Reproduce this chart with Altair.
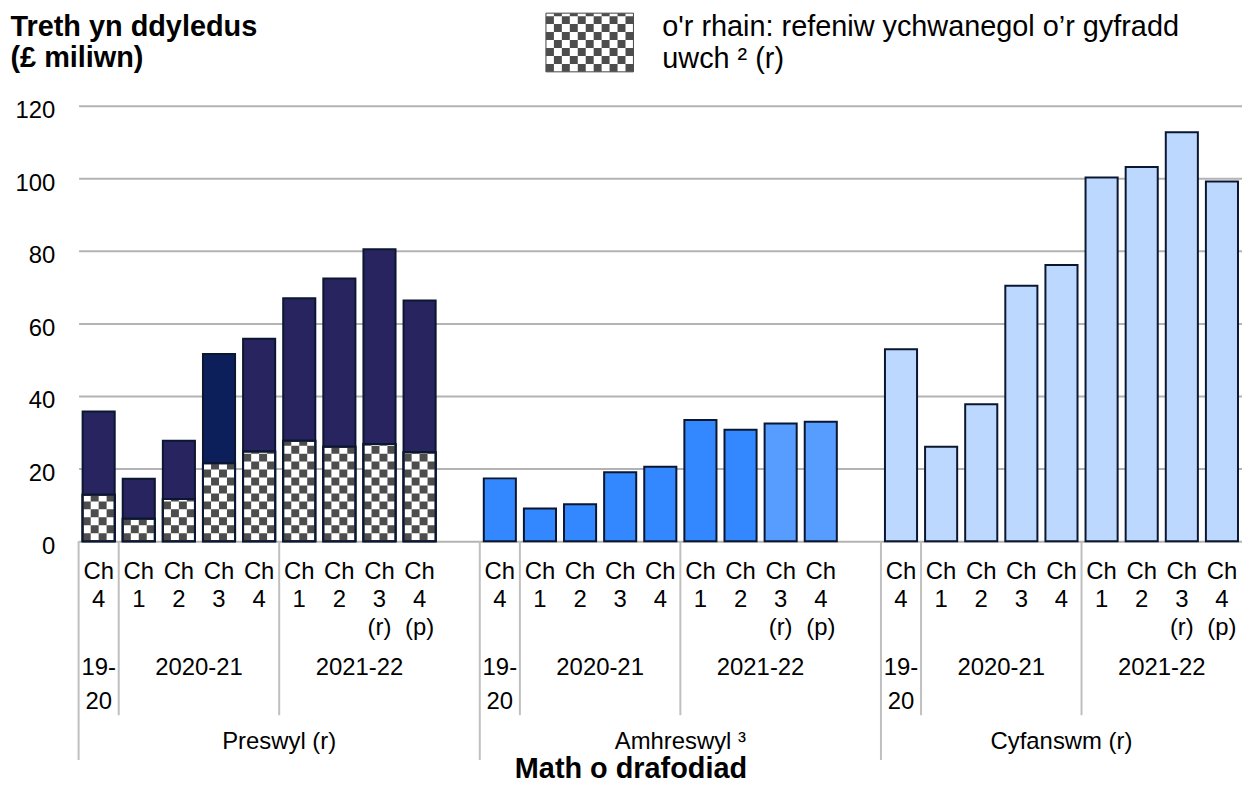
import altair as alt
import pandas as pd

# ---------------- data ----------------
groups = ["Preswyl (r)", "Amhreswyl ³", "Cyfanswm (r)"]
quarter_labels = ["Ch\n4", "Ch\n1", "Ch\n2", "Ch\n3", "Ch\n4",
                  "Ch\n1", "Ch\n2", "Ch\n3\n(r)", "Ch\n4\n(p)"]
year_labels = ["19-\n20", "2020-21", "2021-22"]
year_sizes = [1, 4, 4]

preswyl_total = [35.7, 17.2, 27.7, 51.6, 55.8, 66.9, 72.4, 80.4, 66.3]
preswyl_higher = [12.8, 6.2, 11.6, 21.5, 24.7, 27.7, 26.0, 26.8, 24.5]
amhreswyl_total = [17.3, 9.0, 10.2, 19.0, 20.5, 33.4, 30.7, 32.4, 32.9]
cyfanswm_total = [52.9, 26.0, 37.7, 70.4, 76.1, 100.2, 103.1, 112.7, 99.1]

y_ticks = [0, 20, 40, 60, 80, 100, 120]
y_title = ["Treth yn ddyledus", "(£ miliwn)"]
x_title = "Math o drafodiad"
legend_label = "o'r rhain: refeniw ychwanegol o’r gyfradd\nuwch ² (r)"

# ---------------- styles ----------------
FONT = "Liberation Sans"
STROKE = "#0B1730"
GRID = "#B3B3B3"
CHECK = "#4D4D4D"
group_colors = {"Preswyl (r)": "#28245F", "Amhreswyl ³": "#3388FF", "Cyfanswm (r)": "#BDD8FE"}
color_overrides = {(0, 3): "#0C1F5A", (1, 7): "#579DFF", (1, 8): "#579DFF"}

W, H = 1170, 438

# ---------------- tables ----------------
totals = [preswyl_total, amhreswyl_total, cyfanswm_total]
nq = len(quarter_labels)
domain_keys, bar_keys, bar_colors, rows = [], [], [], []
for g, grp in enumerate(groups):
    for q in range(nq):
        key = f"{g}-{q}"
        domain_keys.append(key)
        bar_keys.append(key)
        bar_colors.append(color_overrides.get((g, q), group_colors[grp]))
        rows.append({"key": key, "group": grp, "qlabel": quarter_labels[q],
                     "total": totals[g][q],
                     "higher": preswyl_higher[q] if g == 0 else None})
    if g < len(groups) - 1:
        domain_keys.append(f"gap-{g}")
n_slots = len(domain_keys)

df_bars = pd.DataFrame(rows)
df_high = df_bars[df_bars["higher"].notna()].copy()
df_high["zero"] = 0.0

glines, ylines, ylabs, glabs = [], [], [], []
for g, grp in enumerate(groups):
    start = g * (nq + 1)
    end = start + nq + (1 if g < len(groups) - 1 else 0)
    glines.append({"pos": start})
    glabs.append({"pos": (start + end) / 2, "label": grp})
    s = start
    for lab, size in zip(year_labels, year_sizes):
        if s > start:
            ylines.append({"pos": s})
        ylabs.append({"pos": s + size / 2, "label": lab})
        s += size
df_glines = pd.DataFrame(glines)
df_ylines = pd.DataFrame(ylines)
df_ylabs = pd.DataFrame(ylabs)
df_glabs = pd.DataFrame(glabs)
one = pd.DataFrame({"n": [0]})

# ---------------- scales / axes ----------------
xband = alt.Scale(domain=domain_keys, paddingInner=0.2, paddingOuter=0.1)
xlin = alt.Scale(domain=[0, n_slots], nice=False, zero=False)
yscale = alt.Scale(domain=[0, 120], nice=False)
yaxis = alt.Axis(
    values=y_ticks, grid=True, gridColor=GRID, gridWidth=2, domain=False, ticks=False,
    labelFontSize=24, labelFont=FONT, labelColor="black", labelPadding=24, labelOffset=5,
    title=y_title, titleAngle=0, titleAlign="left", titleBaseline="alphabetic",
    titleX=-69, titleY=-71, titleFontSize=29, titleFontWeight="bold", titleFont=FONT,
    titleColor="black", titleLineHeight=32)

def xb():
    return alt.X("key:N", scale=xband, axis=None)

def yq(field):
    return alt.Y(field, type="quantitative", scale=yscale, axis=yaxis)

bars = alt.Chart(df_bars).mark_bar(stroke=STROKE, strokeWidth=2).encode(
    x=alt.X("key:N", scale=xband, axis=alt.Axis(
        title=x_title, labels=False, ticks=False, domain=False, grid=False,
        titleFontSize=29, titleFontWeight="bold", titleColor="black", titleFont=FONT,
        titleX=555, titleY=238, titleBaseline="alphabetic", titleAlign="center")),
    y=yq("total"),
    fill=alt.Fill("key:N", scale=alt.Scale(domain=bar_keys, range=bar_colors), legend=None),
)

white = alt.Chart(df_high).mark_bar(fill="white", stroke=STROKE, strokeWidth=2).encode(
    x=xb(), y=yq("higher"))

checks = []
for k, off in enumerate([-12, -4, 4, 12]):
    checks.append(alt.Chart(df_high).mark_rule(
        xOffset=off, strokeWidth=8, strokeDash=[8, 8], strokeDashOffset=8 * (k % 2),
        color=CHECK).encode(x=xb(), y=yq("zero"), y2="higher:Q"))

outline = alt.Chart(df_high).mark_bar(fillOpacity=0, stroke=STROKE, strokeWidth=2).encode(
    x=xb(), y=yq("higher"))

qtext = alt.Chart(df_bars).mark_text(
    fontSize=24, font=FONT, lineBreak="\n", lineHeight=28, baseline="alphabetic",
    align="center", color="black").encode(x=xb(), y=alt.value(476), text="qlabel:N")

gl = alt.Chart(df_glines).mark_rule(color="#BFBFBF", strokeWidth=2).encode(
    x=alt.X("pos:Q", scale=xlin, axis=None), y=alt.value(H), y2=alt.value(658))
yl = alt.Chart(df_ylines).mark_rule(color="#BFBFBF", strokeWidth=2).encode(
    x=alt.X("pos:Q", scale=xlin, axis=None), y=alt.value(H), y2=alt.value(613))

ytext = alt.Chart(df_ylabs).mark_text(
    fontSize=24, font=FONT, lineBreak="\n", lineHeight=34, baseline="alphabetic",
    align="center", color="black").encode(
    x=alt.X("pos:Q", scale=xlin, axis=None), y=alt.value(573), text="label:N")

gtext = alt.Chart(df_glabs).mark_text(
    fontSize=24, font=FONT, baseline="alphabetic", align="center", color="black").encode(
    x=alt.X("pos:Q", scale=xlin, axis=None), y=alt.value(647), text="label:N")

# legend
LX0, LX1, LY0, LY1 = 470, 558, -93, -34
swatch = alt.Chart(one).mark_rect(fill="white", stroke="#444444", strokeWidth=1).encode(
    x=alt.value(LX0), x2=alt.value(LX1), y=alt.value(LY0), y2=alt.value(LY1))
lchecks = []
for k in range((LX1 - LX0) // 8):
    lchecks.append(alt.Chart(one).mark_rule(
        strokeWidth=8, strokeDash=[8, 8], strokeDashOffset=8 * (k % 2), color=CHECK).encode(
        x=alt.value(LX0 + 4 + 8 * k), y=alt.value(LY1), y2=alt.value(LY0)))
ltext = alt.Chart(one).mark_text(
    fontSize=29, font=FONT, lineBreak="\n", lineHeight=32, baseline="alphabetic",
    align="left", color="black").encode(
    x=alt.value(587), y=alt.value(-70), text=alt.value(legend_label))

chart = alt.layer(
    bars, white, *checks, outline, qtext, gl, yl, ytext, gtext, swatch, *lchecks, ltext
).resolve_scale(x="independent").properties(
    width=W, height=H,
    autosize=alt.AutoSizeParams(type="none"),
    padding={"left": 71, "top": 96, "right": 0, "bottom": 239},
).configure(font=FONT).configure_view(strokeWidth=0)

chart.save("out.html", embed_options={"renderer": "svg", "actions": False})
